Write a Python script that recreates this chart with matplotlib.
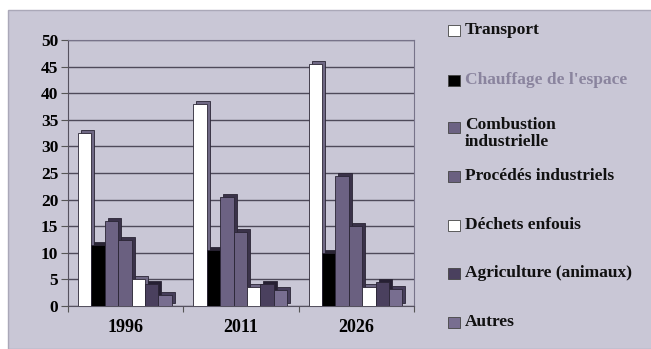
import matplotlib
matplotlib.use("Agg")
import matplotlib.pyplot as plt
import numpy as np
from matplotlib.patches import Rectangle

years = ["1996", "2011", "2026"]
series = ["Transport", "Chauffage de l'espace", "Combustion\nindustrielle",
          "Procédés industriels", "Déchets enfouis", "Agriculture (animaux)", "Autres"]
transport = [32.5, 38.0, 45.5]
chauffage = [11.5, 10.5, 10.0]
combustion = [16.0, 20.5, 24.5]
procedes = [12.5, 14.0, 15.0]
dechets = [5.0, 3.5, 3.5]
agriculture = [4.2, 4.2, 4.5]
autres = [2.0, 3.0, 3.2]
values = [transport, chauffage, combustion, procedes, dechets, agriculture, autres]
yticks = [0, 5, 10, 15, 20, 25, 30, 35, 40, 45, 50]

colors = ["#ffffff", "#000000", "#6c6283", "#6a6080", "#ffffff", "#4a405e", "#786e90"]
side_colors = ["#6f6884", "#2a2535", "#3a3249", "#3a3249", "#6f6884", "#262033", "#463e5a"]
legend_text_colors = ["#111111", "#8a849e", "#111111", "#111111", "#111111", "#111111", "#111111"]

W, H = 651, 349
fig = plt.figure(figsize=(W / 100, H / 100), dpi=100)
fig.patch.set_facecolor("white")
bg = "#c9c7d6"
fig.patches.append(Rectangle((8 / W, 0), 1, (H - 10) / H, transform=fig.transFigure,
                             facecolor=bg, edgecolor="#aaa8b8", lw=1, zorder=-5))

ax = fig.add_axes([68 / W, (H - 306) / H, (414 - 68) / W, (306 - 40) / H])
ax.set_facecolor(bg)
ax.set_xlim(-0.5, 2.5)
ax.set_ylim(0, 50)

bw = 0.116
start = 0.087
px = 3.0 / (414 - 68) * 3.0
py = 3.0 / 266 * 50
x0 = np.arange(len(years)) - 0.5 + start
for i, (vals, c, sc) in enumerate(zip(values, colors, side_colors)):
    xs = x0 + i * bw
    ax.bar(xs + px, vals, width=bw, bottom=py, align="edge", color=sc,
           edgecolor="#2a2535", lw=0.6, zorder=2)
    ax.bar(xs, vals, width=bw, align="edge", color=c,
           edgecolor="#2a2535", lw=0.6, zorder=3)

tfont = dict(fontfamily="Liberation Serif", fontweight="bold")
ax.set_yticks(yticks)
ax.set_yticklabels([str(t) for t in yticks], fontsize=12.5, **tfont)
ax.yaxis.grid(True, color="#4e4a5a", lw=1.0, zorder=1)
ax.set_axisbelow(True)
ax.set_xticks([-0.5, 0.5, 1.5, 2.5])
ax.set_xticklabels([])
ax.set_xticks([0, 1, 2], minor=True)
ax.set_xticklabels(years, minor=True, fontsize=13, **tfont)
ax.tick_params(axis="x", which="minor", length=0, pad=9)
ax.tick_params(axis="x", which="major", length=4, color="#555")
ax.tick_params(axis="y", length=5, color="#555", pad=2)
for s in ["top", "right"]:
    ax.spines[s].set_color("#77738a")
for s in ["left", "bottom"]:
    ax.spines[s].set_color("#55515f")

# legend
leg_y = [30, 80, 127, 176, 225, 273, 322]
for lab, y, c, tc in zip(series, leg_y, colors, legend_text_colors):
    fig.patches.append(Rectangle((448 / W, 1 - (y + 6) / H), 12 / W, 11 / H,
                                 transform=fig.transFigure, facecolor=c,
                                 edgecolor="#444", lw=0.6, zorder=5))
    if "\n" in lab:
        fig.text(465 / W, 1 - (y - 10) / H, lab, ha="left", va="top",
                 fontsize=12.5, color=tc, linespacing=1.1,
                 transform=fig.transFigure, **tfont)
    else:
        fig.text(465 / W, 1 - y / H, lab, ha="left", va="center",
                 fontsize=12.5, color=tc, transform=fig.transFigure, **tfont)

fig.savefig("out.png", dpi=100, facecolor=fig.get_facecolor())
